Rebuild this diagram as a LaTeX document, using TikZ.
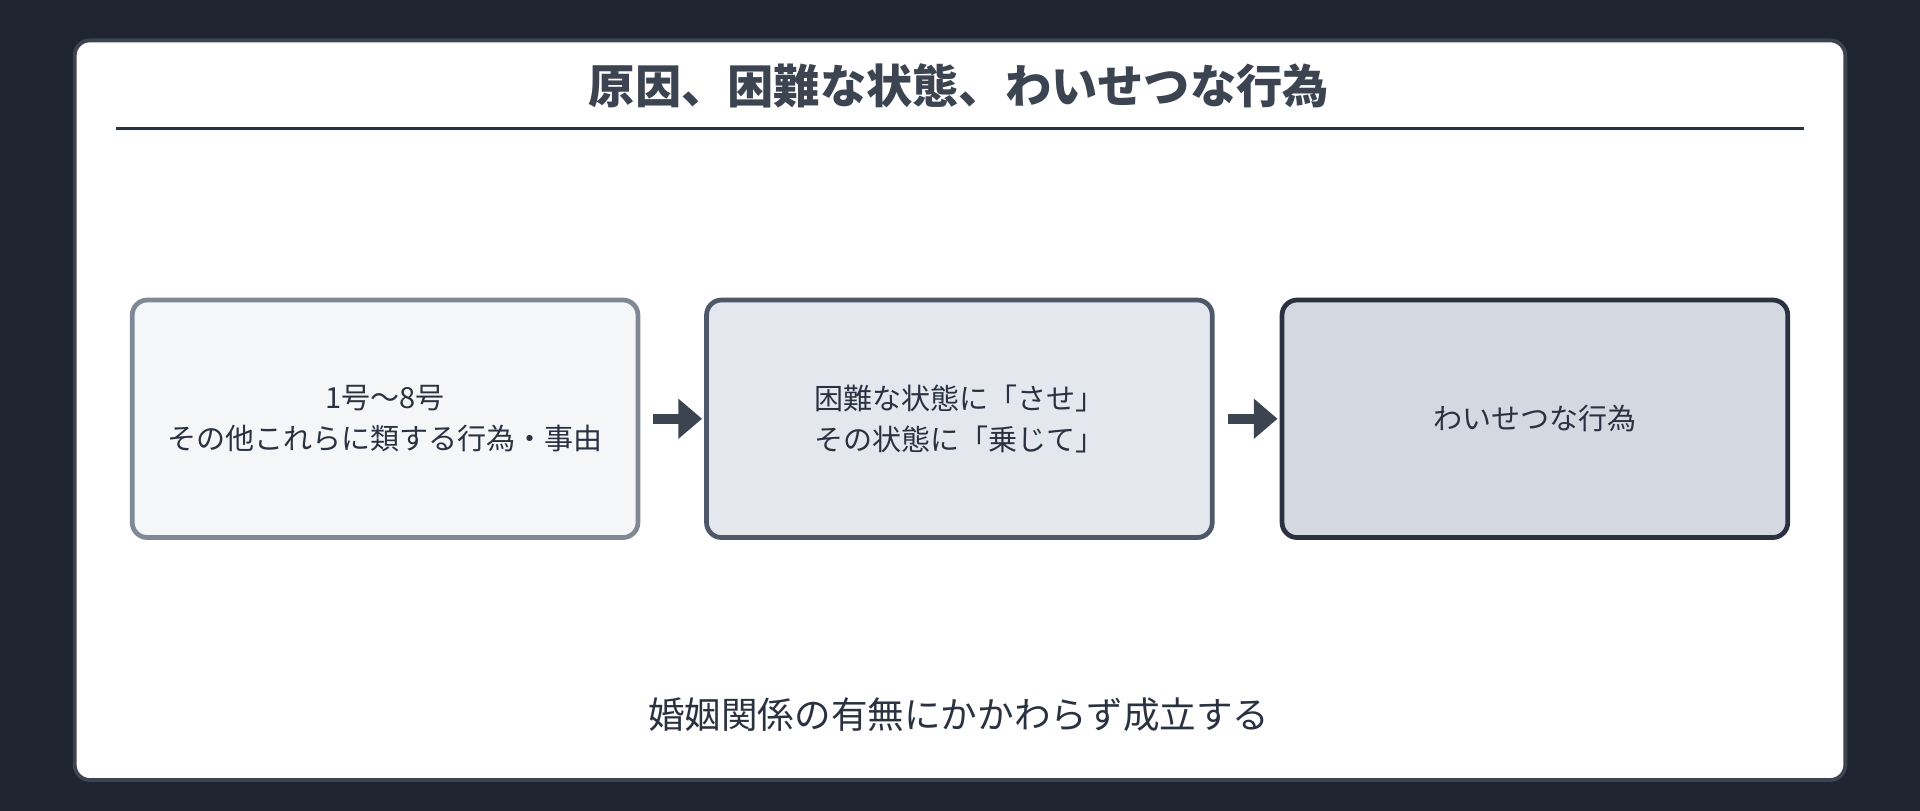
\documentclass[tikz,border=0pt]{standalone}
\usepackage{fontspec}
\setmainfont{Noto Sans CJK JP}
\usetikzlibrary{arrows.meta}
\definecolor{bgd}{HTML}{1E2530}
\definecolor{pan}{HTML}{3D4451}
\definecolor{fa}{HTML}{F4F6F8}\definecolor{ba}{HTML}{808896}
\definecolor{fb}{HTML}{E4E8EE}\definecolor{bb}{HTML}{4F5868}
\definecolor{fc}{HTML}{D4D9E1}\definecolor{bc}{HTML}{2A3140}
\definecolor{txt}{HTML}{2A3140}
\begin{document}
\begin{tikzpicture}[x=0.02cm,y=-0.02cm,
 box/.style={rounded corners=7pt,line width=2.2pt,minimum width=413*0.02cm,minimum height=194*0.02cm,align=center,font=\fontsize{13.5}{19}\selectfont,text=txt},
 arr/.style={-{Triangle[length=11pt,width=18pt]},line width=4.5pt,pan,shorten <=6pt,shorten >=1pt}]
\fill[bgd] (0,0) rectangle (1568,662);
\useasboundingbox (0,0) rectangle (1568,662);
\draw[pan,fill=white,line width=1.8pt,rounded corners=7pt] (61,33) rectangle (1507,637);
\node[font=\bfseries\fontsize{21.5}{26}\selectfont,text=pan] (title) at (783,70) {原因、困難な状態、わいせつな行為};
\draw[txt,line width=1pt] (95,105) -- (1473,105);
\node[box,fill=fa,draw=ba] (a) at (314.5,342) {1号〜8号\\その他これらに類する行為・事由};
\node[box,fill=fb,draw=bb] (b) at (783.5,342) {困難な状態に「させ」\\その状態に「乗じて」};
\node[box,fill=fc,draw=bc] (c) at (1253.5,342) {わいせつな行為};
\draw[arr] (a.east) -- (b.west);
\draw[arr] (b.east) -- (c.west);
\node[font=\fontsize{17}{20}\selectfont,text=txt] (note) at (783,584) {婚姻関係の有無にかかわらず成立する};
\end{tikzpicture}
\end{document}
